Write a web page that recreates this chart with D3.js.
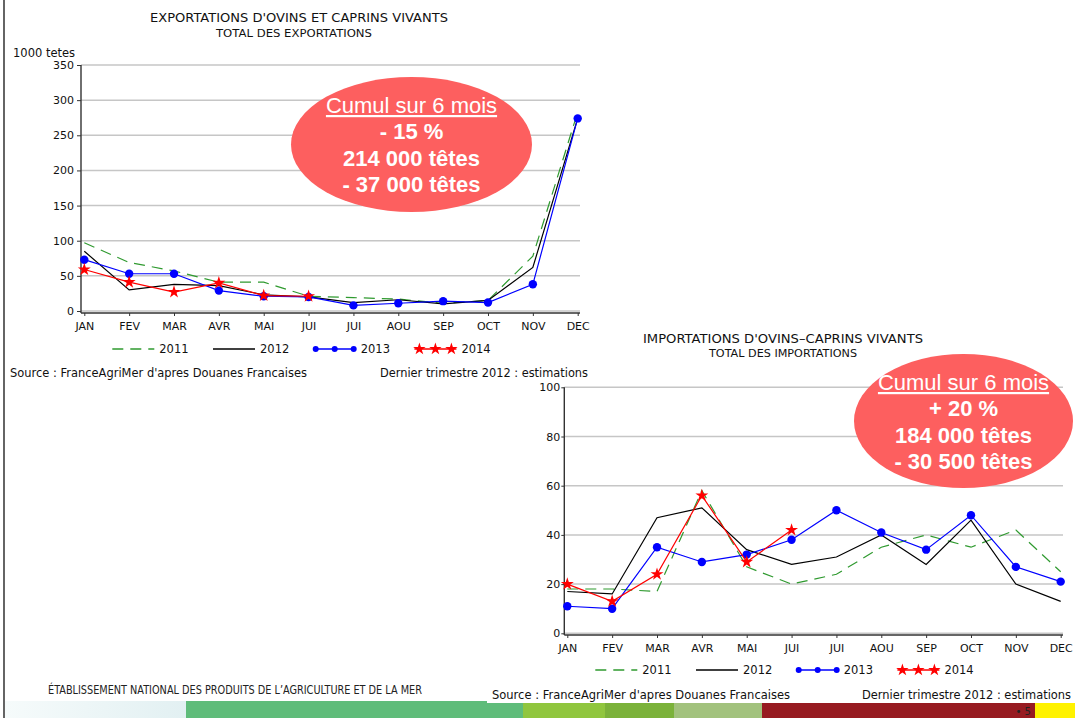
<!DOCTYPE html>
<html>
<head>
<meta charset="utf-8">
<script src="https://cdn.jsdelivr.net/npm/d3@7/dist/d3.min.js"></script>
<style>
  body { margin: 0; background: #fff; }
  svg { display: block; font-family: "DejaVu Sans", sans-serif; }
</style>
</head>
<body>
<div id="page"></div>
<script>
// month labels (two JUI : juin / juillet)
const months = ["JAN", "FEV", "MAR", "AVR", "MAI", "JUI", "JUI", "AOU", "SEP", "OCT", "NOV", "DEC"];
const years = ["2011", "2012", "2013", "2014"];

// exportations, 1000 tetes
const exp2011 = [97, 69, 57, 41, 41, 21, 19, 17, 11, 15, 78, 283];
const exp2012 = [85, 30, 38, 36, 23, 20, 12, 16, 10, 15, 62, 274];
const exp2013 = [73, 53, 53, 29, 21, 20, 8, 11, 14, 12, 38, 274];
const exp2014 = [59, 41, 27, 40, 22, 21];
const expTicks = [0, 50, 100, 150, 200, 250, 300, 350];

// importations, 1000 tetes
const imp2011 = [18, 18, 17, 58, 27, 20, 24, 35, 40, 35, 42, 25];
const imp2012 = [17, 16, 47, 51, 34, 28, 31, 40, 28, 46, 20, 13];
const imp2013 = [11, 10, 35, 29, 32, 38, 50, 41, 34, 48, 27, 21];
const imp2014 = [20, 13, 24, 56, 29, 42];
const impTicks = [0, 20, 40, 60, 80, 100];

const expBubble = ["Cumul sur 6 mois", "- 15 %", "214 000 têtes", "- 37 000 têtes"];
const impBubble = ["Cumul sur 6 mois", "+ 20 %", "184 000 têtes", "- 30 500 têtes"];

const width = 1075, height = 718;
const styles = [
  { color: "#2f9a2f", dash: "11,7" },
  { color: "#000000" },
  { color: "#0000ff", marker: "dot" },
  { color: "#ff0000", marker: "star" }
];
const star = d3.symbol().type(d3.symbolStar);

let svg = d3.select("#page").append("svg").attr("width", width).attr("height", height);

function addText(x, y, str, size, anchor, len, squeeze) {
  let t = svg.append("text")
    .attr("x", x).attr("y", y)
    .attr("font-size", size)
    .attr("text-anchor", anchor || "start")
    .attr("fill", "#111")
    .text(str);
  if (len) t.attr("textLength", len);
  if (squeeze) t.attr("lengthAdjust", "spacingAndGlyphs");
  return t;
}

function drawChart(c) {
  let x = d3.scalePoint().domain(d3.range(months.length)).range([c.x0, c.x1]);
  let y = d3.scaleLinear().domain([0, c.max]).range([c.yBottom, c.yTop]);
  let g = svg.append("g");

  g.selectAll("line.grid").data(c.ticks).join("line")
    .attr("class", "grid")
    .attr("x1", c.axisX).attr("x2", c.gridEnd)
    .attr("y1", d => y(d)).attr("y2", d => y(d))
    .attr("stroke", "#c6c6c6").attr("stroke-width", 1.5);

  let ya = g.append("g").attr("transform", `translate(${c.axisX},0)`)
    .call(d3.axisLeft(y).tickValues(c.ticks).tickSize(c.tick).tickPadding(c.pad).tickSizeOuter(0));
  let xa = g.append("g").attr("transform", `translate(0,${c.axisY})`)
    .call(d3.axisBottom(x).tickFormat(i => months[i]).tickSize(3).tickPadding(6).tickSizeOuter(0));
  [ya, xa].forEach(a => {
    a.select(".domain").remove();
    a.selectAll("text").attr("font-size", 11).attr("font-family", "DejaVu Sans").attr("fill", "#111");
    a.selectAll("line").attr("stroke", "#333");
  });

  g.append("line").attr("x1", c.axisX).attr("x2", c.axisX).attr("y1", c.yTop).attr("y2", c.axisY)
    .attr("stroke", "#333").attr("stroke-width", 1.4);
  g.append("line").attr("x1", c.axisX).attr("x2", c.gridEnd).attr("y1", c.axisY).attr("y2", c.axisY)
    .attr("stroke", "#333").attr("stroke-width", 1.4);

  let line = d3.line().x((d, i) => x(i)).y(d => y(d));
  c.series.forEach((s, k) => {
    let st = styles[k];
    g.append("path").datum(s)
      .attr("d", line)
      .attr("fill", "none")
      .attr("stroke", st.color)
      .attr("stroke-width", 1.2)
      .attr("stroke-dasharray", st.dash || null);
    if (st.marker === "dot") {
      g.selectAll(null).data(s).join("circle")
        .attr("cx", (d, i) => x(i)).attr("cy", d => y(d)).attr("r", 4.2)
        .attr("fill", st.color);
    }
    if (st.marker === "star") {
      g.selectAll(null).data(s).join("path")
        .attr("d", star.size(52))
        .attr("transform", (d, i) => `translate(${x(i)},${y(d)})`)
        .attr("fill", st.color);
    }
  });

  // legend
  years.forEach((yr, k) => {
    let st = styles[k];
    let lx = c.x0 + 28 + k * 100.7, ly = c.legendY - 4;
    g.append("line").attr("x1", lx).attr("x2", lx + 42).attr("y1", ly).attr("y2", ly)
      .attr("stroke", st.color).attr("stroke-width", 1.3)
      .attr("stroke-dasharray", st.dash || null);
    if (st.marker === "dot") {
      [2, 21, 40].forEach(o => g.append("circle").attr("cx", lx + o).attr("cy", ly).attr("r", 3).attr("fill", st.color));
    }
    if (st.marker === "star") {
      [5, 21, 37].forEach(o => g.append("path").attr("d", star.size(48))
        .attr("transform", `translate(${lx + o},${ly})`).attr("fill", st.color));
    }
    g.append("text").attr("x", lx + 47).attr("y", c.legendY)
      .attr("font-size", 11.5).attr("fill", "#111").text(yr);
  });

  // bubble
  let b = c.bubble;
  g.append("ellipse").attr("cx", b.cx).attr("cy", b.cy).attr("rx", b.rx).attr("ry", b.ry)
    .attr("fill", "#fd5f5f");
  c.bubbleText.forEach((t, i) => {
    g.append("text")
      .attr("x", b.cx).attr("y", b.y0 + i * 26.3)
      .attr("text-anchor", "middle")
      .attr("font-family", "Liberation Sans, Arial, sans-serif")
      .attr("font-size", 22)
      .attr("font-weight", i === 0 ? "normal" : "bold")
      .attr("text-decoration", i === 0 ? "underline" : null)
      .attr("fill", "#fff")
      .text(t);
  });
}

// page border
svg.append("line").attr("x1", 4).attr("x2", 4).attr("y1", 0).attr("y2", height)
  .attr("stroke", "#111").attr("stroke-width", 1.3);

// exportations
addText(299, 22, "EXPORTATIONS D'OVINS ET CAPRINS VIVANTS", 12.5, "middle", 298, true);
addText(294, 37, "TOTAL DES EXPORTATIONS", 10, "middle", 156, true);
addText(13, 57, "1000 tetes", 11.5);
drawChart({
  x0: 84.3, x1: 577.7, yTop: 65, yBottom: 311, max: 350, ticks: expTicks,
  axisX: 81, axisY: 313, gridEnd: 580, tick: 4, pad: 3, legendY: 353,
  series: [exp2011, exp2012, exp2013, exp2014],
  bubble: { cx: 411.5, cy: 144.5, rx: 120.5, ry: 67.5, y0: 113 },
  bubbleText: expBubble
});
addText(10, 377, "Source : FranceAgriMer d'apres Douanes Francaises", 11.5, "start", 297, true);
addText(588, 377, "Dernier trimestre 2012 : estimations", 11.5, "end", 208, true);

// importations
addText(783, 343, "IMPORTATIONS D'OVINS\u2013CAPRINS VIVANTS", 12.5, "middle", 280, true);
addText(783, 357, "TOTAL DES IMPORTATIONS", 10, "middle", 148, true);
drawChart({
  x0: 567.3, x1: 1060.7, yTop: 387.3, yBottom: 633.3, max: 100, ticks: impTicks,
  axisX: 564.3, axisY: 635, gridEnd: 1063, tick: 3, pad: 1, legendY: 674,
  series: [imp2011, imp2012, imp2013, imp2014],
  bubble: { cx: 963.5, cy: 421, rx: 109.5, ry: 67, y0: 390 },
  bubbleText: impBubble
});

// footer band
const band = [
  [186, 523, "#5fbc7a"], [523, 605, "#90c63e"], [605, 674, "#7bb23a"],
  [674, 762, "#a2c27d"], [762, 1035, "#971b21"], [1035, 1075, "#fff200"]
];
let grad = svg.append("defs").append("linearGradient").attr("id", "fade");
grad.append("stop").attr("offset", "0%").attr("stop-color", "#f6fbfb");
grad.append("stop").attr("offset", "100%").attr("stop-color", "#e2f0f2");
svg.append("rect").attr("x", 5).attr("y", 701).attr("width", 181).attr("height", 17).attr("fill", "url(#fade)");
band.forEach(b => svg.append("rect").attr("x", b[0]).attr("y", 701)
  .attr("width", b[1] - b[0]).attr("height", 17).attr("fill", b[2]));
svg.append("text").attr("x", 1031).attr("y", 715).attr("text-anchor", "end")
  .attr("font-size", 10).attr("fill", "#222").text("\u2022 5");

addText(48, 694, "ÉTABLISSEMENT NATIONAL DES PRODUITS DE L\u2019AGRICULTURE ET DE LA MER", 12, "start", 374, true)
  .attr("font-family", "DejaVu Sans Condensed, DejaVu Sans").attr("fill", "#222");
svg.append("rect").attr("x", 487).attr("y", 684).attr("width", 588).attr("height", 19).attr("fill", "#fff");
addText(492, 699, "Source : FranceAgriMer d'apres Douanes Francaises", 11.5, "start", 298, true);
addText(1071, 699, "Dernier trimestre 2012 : estimations", 11.5, "end", 209, true);
</script>
</body>
</html>
